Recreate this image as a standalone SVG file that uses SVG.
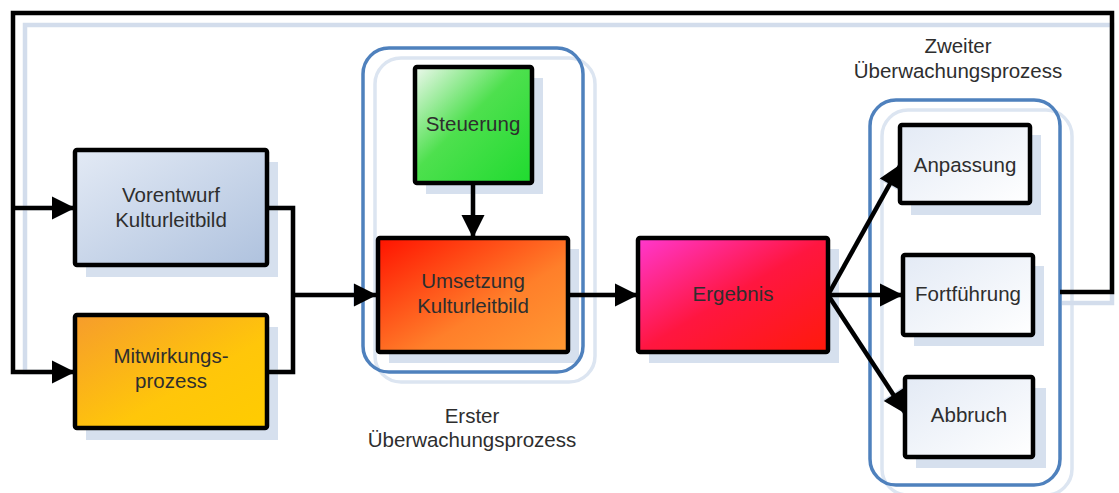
<svg xmlns="http://www.w3.org/2000/svg" width="1119" height="493" viewBox="0 0 1119 493">
<style>
.box{stroke:#000;stroke-width:4.5}
.shadow{fill:#d6e0ee;stroke:none}
.grp{fill:none;stroke:#4f81bd;stroke-width:3.5}
.grpsh{fill:none;stroke:#dce5f1;stroke-width:3.5}
.txt{font-family:"Liberation Sans",Arial,sans-serif;font-size:20.5px;fill:#2e2e2e;text-anchor:middle}
.con{fill:none;stroke:#000;stroke-width:4.5;stroke-linejoin:miter}
.consh{fill:none;stroke:#d3ddec;stroke-width:4.5}
</style>
<defs>
<marker id="arr" markerUnits="userSpaceOnUse" markerWidth="26" markerHeight="26" viewBox="0 0 26 26" refX="24" refY="13" orient="auto">
<path d="M1 1.5 L24 13 L1 24.5 Z" fill="#000"/>
</marker>
<marker id="arrsh" markerUnits="userSpaceOnUse" markerWidth="26" markerHeight="26" viewBox="0 0 26 26" refX="24" refY="13" orient="auto">
<path d="M1 1.5 L24 13 L1 24.5 Z" fill="#d3ddec"/>
</marker>
<linearGradient id="gBlue" x1="0" y1="0" x2="1" y2="1">
<stop offset="0" stop-color="#e3eaf5"/><stop offset="1" stop-color="#afc2de"/>
</linearGradient>
<linearGradient id="gOrange" x1="0" y1="0" x2="1" y2="1">
<stop offset="0" stop-color="#f69c2c"/><stop offset="0.6" stop-color="#ffc60a"/><stop offset="1" stop-color="#ffcc00"/>
</linearGradient>
<linearGradient id="gGreen" x1="0" y1="0" x2="1" y2="1">
<stop offset="0" stop-color="#eef8ee"/><stop offset="0.45" stop-color="#4ee04e"/><stop offset="1" stop-color="#1fdb2f"/>
</linearGradient>
<linearGradient id="gRed" x1="0" y1="0" x2="1" y2="1">
<stop offset="0" stop-color="#ff1200"/><stop offset="0.6" stop-color="#ff7f2a"/><stop offset="1" stop-color="#ff9a33"/>
</linearGradient>
<linearGradient id="gMag" x1="0" y1="0" x2="1" y2="1">
<stop offset="0" stop-color="#ff38d0"/><stop offset="0.5" stop-color="#ff1640"/><stop offset="1" stop-color="#ff1a0a"/>
</linearGradient>
<linearGradient id="gWhite" x1="0" y1="0" x2="1" y2="1">
<stop offset="0" stop-color="#e3eaf5"/><stop offset="1" stop-color="#ffffff"/>
</linearGradient>
</defs>
<rect width="1119" height="493" fill="#fff"/>

<!-- group shadows -->
<rect class="grpsh" x="375" y="58" width="220" height="324" rx="26"/>
<rect class="grpsh" x="882" y="110" width="190" height="385" rx="26"/>

<!-- node shadows -->
<g id="shadows">
<rect class="shadow" x="86" y="162" width="192" height="115"/>
<rect class="shadow" x="86" y="327" width="192" height="113"/>
<rect class="shadow" x="426" y="78" width="117" height="116"/>
<rect class="shadow" x="389" y="249" width="190" height="114"/>
<rect class="shadow" x="649" y="249" width="190" height="114"/>
<rect class="shadow" x="911" y="135" width="130" height="80"/>
<rect class="shadow" x="914" y="266" width="130" height="80"/>
<rect class="shadow" x="916" y="388" width="130" height="80"/>
</g>

<!-- connector shadows -->
<g id="connector-shadows" transform="translate(11,11)">
<path class="consh" d="M1051 292 H1101 V14 H14 V361 H64" marker-end="url(#arrsh)"/>
<path class="consh" d="M14 197 H64" marker-end="url(#arrsh)"/>
<path class="consh" d="M256 197 H282 V361 H256"/>
<path class="consh" d="M282 284 H365" marker-end="url(#arrsh)"/>
<path class="consh" d="M462 172 V227" marker-end="url(#arrsh)"/>
<path class="consh" d="M557 284 H627" marker-end="url(#arrsh)"/>
<path class="consh" d="M817 284 L889 154" marker-end="url(#arrsh)"/>
<path class="consh" d="M817 284 H892" marker-end="url(#arrsh)"/>
<path class="consh" d="M817 284 L894 402" marker-end="url(#arrsh)"/>
</g>

<!-- groups -->
<g id="group-erster">
<rect class="grp" x="363" y="48" width="220" height="324" rx="26"/>
<text class="txt" x="472" y="423">Erster</text>
<text class="txt" x="472" y="447">Überwachungsprozess</text>
</g>
<g id="group-zweiter">
<rect class="grp" x="870" y="100" width="190" height="385" rx="26"/>
<text class="txt" x="958" y="53">Zweiter</text>
<text class="txt" x="958" y="78">Überwachungsprozess</text>
</g>

<!-- connectors -->
<g id="connectors">
<path class="con" d="M1060 292 H1112 V13 H13 V372 H75" marker-end="url(#arr)"/>
<path class="con" d="M13 208 H75" marker-end="url(#arr)"/>
<path class="con" d="M267 208 H293 V372 H267"/>
<path class="con" d="M293 295 H377" marker-end="url(#arr)"/>
<path class="con" d="M473 183 V238" marker-end="url(#arr)"/>
<path class="con" d="M568 295 H638" marker-end="url(#arr)"/>
<path class="con" d="M828 295 L901 164" marker-end="url(#arr)"/>
<path class="con" d="M828 295 H903" marker-end="url(#arr)"/>
<path class="con" d="M828 295 L906 414" marker-end="url(#arr)"/>
</g>

<g id="vorentwurf">
<rect class="box" x="75" y="150" width="192" height="115" rx="2" fill="url(#gBlue)"/>
<text class="txt" x="171" y="202">Vorentwurf</text>
<text class="txt" x="171" y="227">Kulturleitbild</text>
</g>
<g id="mitwirkung">
<rect class="box" x="75" y="315" width="192" height="113" rx="2" fill="url(#gOrange)"/>
<text class="txt" x="171" y="363">Mitwirkungs-</text>
<text class="txt" x="171" y="388">prozess</text>
</g>
<g id="steuerung">
<rect class="box" x="415" y="67" width="117" height="116" rx="2" fill="url(#gGreen)"/>
<text class="txt" x="473" y="131">Steuerung</text>
</g>
<g id="umsetzung">
<rect class="box" x="378" y="238" width="190" height="114" rx="2" fill="url(#gRed)"/>
<text class="txt" x="473" y="288">Umsetzung</text>
<text class="txt" x="473" y="313">Kulturleitbild</text>
</g>
<g id="ergebnis">
<rect class="box" x="638" y="238" width="190" height="114" rx="2" fill="url(#gMag)"/>
<text class="txt" x="733" y="301">Ergebnis</text>
</g>
<g id="anpassung">
<rect class="box" x="900" y="125" width="130" height="78" rx="2" fill="url(#gWhite)"/>
<text class="txt" x="965" y="172">Anpassung</text>
</g>
<g id="fortfuehrung">
<rect class="box" x="903" y="255" width="130" height="80" rx="2" fill="url(#gWhite)"/>
<text class="txt" x="968" y="301">Fortführung</text>
</g>
<g id="abbruch">
<rect class="box" x="905" y="377" width="128" height="80" rx="2" fill="url(#gWhite)"/>
<text class="txt" x="969" y="422">Abbruch</text>
</g>
</svg>
